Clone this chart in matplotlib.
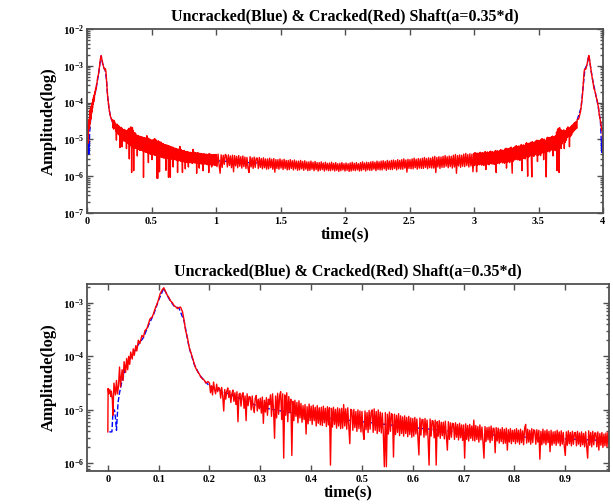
import numpy as np
import matplotlib
matplotlib.use("Agg")
from matplotlib import pyplot as plt
from matplotlib.ticker import FormatStrFormatter, LogLocator

plt.rcParams['font.family'] = 'Liberation Serif'
plt.rcParams['font.weight'] = 'bold'
plt.rcParams['mathtext.fontset'] = 'custom'
plt.rcParams['mathtext.rm'] = 'Liberation Serif:bold'

TITLE = "Uncracked(Blue) & Cracked(Red) Shaft(a=0.35*d)"

# cracked shaft spectrum, log10(amplitude)
# rise + main peak, 0 .. 0.2 s
peak_t = [0, 0.0005, 0.002, 0.004, 0.006, 0.007, 0.009, 0.010, 0.012, 0.015,
          0.017, 0.019, 0.021, 0.023, 0.025, 0.028, 0.030, 0.032, 0.035, 0.037,
          0.039, 0.041, 0.043, 0.045, 0.048, 0.050, 0.052, 0.055, 0.057, 0.060,
          0.063, 0.067, 0.070, 0.073, 0.077, 0.080, 0.083, 0.087, 0.090, 0.093,
          0.097, 0.100, 0.103, 0.107, 0.110, 0.113, 0.117, 0.120, 0.123, 0.127,
          0.130, 0.133, 0.137, 0.140, 0.143, 0.147, 0.150, 0.153, 0.157, 0.160,
          0.163, 0.167, 0.170, 0.173, 0.177, 0.180, 0.183, 0.187, 0.190, 0.193,
          0.197]
peak_v = [-5.41, -4.60, -4.70, -4.62, -4.75, -4.65, -4.82, -5.10, -4.50, -4.72,
          -4.45, -4.70, -4.55, -4.20, -4.57, -4.25, -4.45, -4.10, -4.30, -4.04,
          -4.25, -4.00, -4.15, -3.92, -4.05, -3.86, -3.98, -3.80, -3.90, -3.70,
          -3.76, -3.61, -3.64, -3.52, -3.48, -3.39, -3.30, -3.27, -3.20, -3.11,
          -3.02, -2.93, -2.83, -2.76, -2.72, -2.78, -2.86, -2.90, -2.96, -3.00,
          -3.05, -3.07, -3.11, -3.09, -3.08, -3.17, -3.33, -3.52, -3.67, -3.83,
          -3.92, -4.04, -4.14, -4.22, -4.29, -4.33, -4.39, -4.42, -4.45, -4.50,
          -4.47]

# noisy tail, one sample every 2 ms from 0.2 s
tail_v = [
    -4.50, -4.68, -4.55, -4.72, -4.48, -4.62, -4.70, -4.52, -4.66, -4.58,
    -4.60, -4.78, -4.58, -4.74, -5.02, -4.62, -4.80, -4.65, -4.59, -4.77,
    -4.64, -4.86, -4.70, -4.63, -4.84, -4.68, -4.90, -4.66, -5.22, -4.71,
    -4.69, -4.93, -4.72, -4.68, -4.97, -4.74, -5.20, -4.70, -4.92, -4.75,
    -4.76, -5.00, -4.74, -4.95, -5.05, -4.78, -4.73, -5.02, -4.80, -4.98,
    -4.78, -5.06, -4.76, -5.25, -4.82, -5.04, -4.77, -5.10, -4.80, -4.90,
    -4.72, -5.12, -4.70, -5.00, -5.53, -4.74, -5.15, -4.69, -5.08, -4.73,
    -4.66, -5.18, -4.70, -5.90, -4.72, -5.10, -4.68, -5.22, -4.75, -5.05,
    -4.80, -5.85, -4.84, -5.20, -4.82, -5.12, -4.86, -5.24, -4.83, -5.15,
    -4.88, -5.23, -4.92, -5.18, -4.90, -5.45, -4.94, -5.26, -4.89, -5.20,
    -4.93, -5.27, -4.91, -5.20, -4.95, -5.30, -4.92, -5.25, -4.96, -5.28,
    -4.95, -5.29, -4.93, -5.24, -4.97, -5.31, -4.94, -5.28, -4.96, -6.03,
    -4.97, -5.32, -4.95, -5.27, -4.99, -5.34, -4.96, -5.30, -4.98, -5.35,
    -4.97, -5.34, -4.90, -5.30, -4.98, -5.36, -4.96, -5.28, -5.63, -4.99,
    -5.01, -5.38, -4.99, -5.33, -5.03, -5.40, -5.00, -5.35, -5.02, -5.41,
    -5.03, -5.40, -5.55, -5.02, -5.37, -5.05, -5.42, -5.01, -5.36, -5.04,
    -5.00, -5.42, -4.98, -5.38, -5.03, -5.44, -5.00, -5.40, -5.04, -5.43,
    -5.06, -5.44, -6.06, -5.05, -6.06, -5.08, -5.45, -5.04, -5.40, -5.07,
    -5.09, -5.88, -5.08, -5.46, -5.10, -5.42, -5.07, -5.48, -5.11, -5.44,
    -5.13, -5.49, -5.11, -5.44, -5.14, -5.50, -5.12, -5.46, -5.15, -5.51,
    -5.16, -5.49, -5.14, -5.45, -5.17, -5.50, -5.84, -5.15, -5.47, -5.18,
    -5.18, -5.51, -5.16, -5.47, -5.19, -5.52, -6.03, -5.17, -5.49, -5.20,
    -5.21, -5.52, -5.19, -6.03, -5.22, -5.49, -5.20, -5.53, -5.23, -5.48,
    -5.23, -5.54, -5.21, -5.50, -5.75, -5.22, -5.55, -5.24, -5.51, -5.25,
    -5.26, -5.55, -5.24, -5.51, -5.27, -5.56, -5.25, -5.52, -5.28, -5.57,
    -5.28, -5.90, -5.26, -5.55, -5.29, -5.58, -5.27, -5.53, -5.30, -5.57,
    -5.19, -5.58, -5.29, -5.55, -5.31, -5.60, -5.28, -5.56, -5.32, -5.59,
    -5.90, -5.31, -5.59, -5.33, -5.56, -5.32, -5.61, -5.30, -5.57, -5.34,
    -5.35, -5.80, -5.33, -5.58, -5.34, -5.62, -5.36, -5.59, -5.33, -5.63,
    -5.36, -5.62, -5.34, -5.75, -5.37, -5.60, -5.35, -5.63, -5.38, -5.59,
    -5.37, -5.63, -5.35, -5.60, -5.38, -5.64, -5.36, -5.61, -5.39, -5.65,
    -5.34, -5.27, -5.62, -5.36, -5.60, -5.38, -5.64, -5.35, -5.61, -5.37,
    -5.39, -5.64, -5.37, -5.60, -5.38, -5.92, -5.40, -5.65, -5.36, -5.62,
    -5.39, -5.65, -5.37, -5.61, -5.40, -5.78, -5.38, -5.66, -5.41, -5.63,
    -5.40, -5.66, -5.38, -5.62, -5.41, -5.67, -5.39, -5.64, -5.42, -5.68,
    -5.85, -5.41, -5.66, -5.39, -5.63, -5.42, -5.67, -5.40, -5.64, -5.43,
    -5.42, -5.67, -5.40, -5.64, -5.43, -5.68, -5.41, -5.65, -5.44, -5.69,
    -5.41, -5.68, -5.90, -5.39, -5.66, -5.42, -5.69, -5.40, -5.65, -5.43,
    -5.43, -5.69, -5.41, -5.75, -5.44, -5.66, -5.42, -5.70, -5.45, -5.67,
    -5.43, -5.69, -5.41, -5.66, -5.44, -5.70, -5.42, -5.67, -5.45, -5.71]

# floor between the peaks, one sample every 8 ms from 1.0 s
mid_v = [
    -5.41, -5.74, -5.40, -5.70, -5.92, -5.42, -5.76, -5.43, -5.68, -5.41,
    -5.44, -5.75, -5.42, -5.71, -5.45, -5.77, -5.43, -5.88, -5.44, -5.72,
    -5.46, -5.77, -5.44, -5.73, -5.47, -5.78, -5.45, -5.74, -5.48, -5.79,
    -5.49, -5.78, -5.90, -5.47, -5.75, -5.50, -5.79, -5.48, -5.76, -5.51,
    -5.51, -5.79, -5.49, -5.76, -5.52, -5.80, -5.50, -5.77, -5.53, -5.81,
    -5.53, -5.80, -5.51, -5.77, -5.54, -5.81, -5.52, -5.89, -5.55, -5.79,
    -5.55, -5.81, -5.53, -5.78, -5.56, -5.82, -5.54, -5.79, -5.57, -5.83,
    -5.57, -5.82, -5.55, -5.79, -5.58, -5.83, -5.56, -5.80, -5.59, -5.84,
    -5.59, -5.83, -5.57, -5.80, -5.60, -5.84, -5.58, -5.81, -5.61, -5.85,
    -5.61, -5.84, -5.59, -5.81, -5.62, -5.85, -5.60, -5.82, -5.63, -5.86,
    -5.63, -5.84, -5.61, -5.82, -5.64, -5.86, -5.62, -5.83, -5.65, -5.85,
    -5.64, -5.85, -5.62, -5.83, -5.65, -5.86, -5.63, -5.84, -5.66, -5.87,
    -5.65, -5.85, -5.63, -5.83, -5.66, -5.86, -5.64, -5.84, -5.66, -5.87,
    -5.64, -5.86, -5.62, -5.84, -5.65, -5.85, -5.63, -5.83, -5.66, -5.86,
    -5.63, -5.85, -5.61, -5.82, -5.64, -5.86, -5.62, -5.83, -5.63, -5.84,
    -5.61, -5.84, -5.60, -5.81, -5.62, -5.85, -5.59, -5.82, -5.61, -5.83,
    -5.59, -5.83, -5.58, -5.80, -5.60, -5.84, -5.57, -5.81, -5.59, -5.82,
    -5.57, -5.82, -5.56, -5.79, -5.58, -5.83, -5.55, -5.80, -5.57, -5.81,
    -5.55, -5.81, -5.53, -5.78, -5.56, -5.89, -5.54, -5.79, -5.55, -5.80,
    -5.53, -5.80, -5.51, -5.77, -5.54, -5.81, -5.52, -5.78, -5.53, -5.79,
    -5.51, -5.79, -5.49, -5.76, -5.52, -5.80, -5.50, -5.77, -5.51, -5.78,
    -5.48, -5.78, -5.46, -5.90, -5.49, -5.75, -5.47, -5.79, -5.48, -5.76,
    -5.46, -5.76, -5.44, -5.73, -5.47, -5.77, -5.45, -5.74, -5.46, -5.78,
    -5.43, -5.75, -5.41, -5.92, -5.44, -5.72, -5.42, -5.76, -5.43, -5.73,
    -5.40, -5.74, -5.38, -5.71, -5.41, -5.75, -5.39, -5.72, -5.40, -5.88]

# rising noise towards the mirror peak, one sample every 4 ms from 3.0 s
rtail_v = [
    -5.38, -5.71, -5.36, -5.68, -5.39, -5.88, -5.37, -5.70, -5.40, -5.67,
    -5.37, -5.69, -5.35, -5.66, -5.38, -5.70, -5.36, -5.67, -5.39, -5.71,
    -5.35, -5.67, -5.33, -5.82, -5.36, -5.68, -5.34, -5.65, -5.37, -5.69,
    -5.34, -5.66, -5.32, -5.63, -5.35, -5.67, -5.33, -5.64, -5.36, -5.68,
    -5.32, -5.64, -5.30, -5.90, -5.33, -5.65, -5.31, -5.62, -5.34, -5.66,
    -5.30, -5.63, -5.28, -5.60, -5.31, -5.64, -5.29, -5.61, -5.32, -5.65,
    -5.26, -5.61, -5.24, -5.78, -5.27, -5.62, -5.25, -5.59, -5.28, -5.63,
    -5.23, -5.58, -5.21, -5.55, -5.92, -5.24, -5.59, -5.22, -5.56, -5.25,
    -5.19, -5.55, -5.17, -5.52, -5.20, -5.56, -5.18, -5.53, -5.21, -5.57,
    -5.16, -5.51, -5.14, -5.85, -5.17, -5.52, -5.15, -5.49, -5.18, -5.53,
    -5.11, -5.47, -5.09, -5.44, -6.00, -5.12, -5.48, -5.10, -5.45, -5.13,
    -5.08, -5.45, -6.02, -5.06, -5.43, -5.09, -5.46, -5.07, -5.42, -5.10,
    -5.04, -5.42, -5.02, -5.60, -5.05, -5.43, -5.03, -5.39, -5.06, -5.44,
    -5.00, -5.38, -4.98, -5.35, -5.01, -5.55, -4.99, -5.36, -5.02, -5.40,
    -6.02, -4.96, -5.33, -4.94, -5.30, -4.97, -5.34, -4.95, -5.31, -4.98,
    -4.93, -5.29, -4.91, -5.45, -4.94, -5.30, -4.92, -5.26, -4.90, -5.31,
    -4.80, -5.85, -4.72, -5.22, -4.70, -5.90, -4.68, -5.20, -4.74, -5.25,
    -4.75, -5.12, -4.78, -5.05, -4.74, -5.25, -4.79, -5.08, -4.76, -5.02,
    -4.70, -4.95, -4.66, -4.90, -4.72, -5.20, -4.68, -4.92, -4.65, -4.88,
    -4.62, -4.82, -4.60, -4.78, -4.56, -4.75, -4.54, -4.72, -4.52, -4.70]

# mirror peak, 3.8 .. 4.0 s
rpeak_t = [3.800, 3.805, 3.810, 3.815, 3.820, 3.825, 3.830, 3.835, 3.840, 3.845,
           3.850, 3.855, 3.860, 3.865, 3.870, 3.875, 3.880, 3.885, 3.890, 3.895,
           3.900, 3.905, 3.910, 3.915, 3.920, 3.925, 3.930, 3.935, 3.940, 3.945,
           3.950, 3.955, 3.960, 3.965, 3.970, 3.975, 3.980, 3.985, 3.990, 3.995,
           3.999]
rpeak_v = [-4.47, -4.45, -4.45, -4.40, -4.33, -4.25, -4.14, -3.98, -3.83, -3.60,
           -3.33, -3.12, -3.09, -3.10, -3.05, -2.98, -2.90, -2.80, -2.72, -2.80,
           -2.93, -3.06, -3.20, -3.29, -3.39, -3.50, -3.62, -3.66, -3.72, -3.82,
           -3.88, -3.94, -4.05, -4.12, -4.30, -4.40, -4.50, -4.60, -4.75, -4.72,
           -5.35]

# uncracked shaft (mostly hidden under the red trace)
blue_t = [0.003, 0.008, 0.010, 0.013, 0.015, 0.017, 0.020, 0.023, 0.027, 0.030,
          0.035, 0.04, 0.05, 0.06, 0.07, 0.08, 0.09, 0.10, 0.11, 0.12,
          0.13, 0.14, 0.15, 0.16, 0.17, 0.18, 0.19, 0.2, 0.3, 0.4,
          0.5, 0.6, 0.7, 0.8, 0.9, 1.0, 1.5, 2.0, 2.5, 3.0,
          3.5, 3.7, 3.8, 3.83, 3.845, 3.86, 3.875, 3.89, 3.905, 3.92,
          3.94, 3.96, 3.975, 3.98, 3.985, 3.99, 3.993, 3.997]
blue_v = [-5.41, -5.41, -5.05, -5.00, -5.15, -5.38, -4.87, -4.68, -4.50, -4.40,
          -4.20, -4.10, -3.95, -3.78, -3.65, -3.42, -3.22, -2.95, -2.73, -2.92,
          -3.06, -3.10, -3.34, -3.84, -4.15, -4.34, -4.46, -4.55, -4.95, -5.12,
          -5.22, -5.33, -5.42, -5.50, -5.54, -5.58, -5.68, -5.75, -5.68, -5.56,
          -5.22, -5.00, -4.47, -4.14, -3.60, -3.09, -2.98, -2.72, -3.06, -3.39,
          -3.72, -4.05, -4.40, -4.50, -4.90, -5.35, -5.00, -5.40]

tail_t = 0.2 + 0.002 * np.arange(len(tail_v))
mid_t = 1.0 + 0.008 * np.arange(len(mid_v))
rtail_t = 3.0 + 0.004 * np.arange(len(rtail_v))

red_t = np.concatenate([peak_t, tail_t, mid_t, rtail_t, rpeak_t])
red_a = 10.0 ** np.concatenate([peak_v, tail_v, mid_v, rtail_v, rpeak_v])
blue_a = 10.0 ** np.array(blue_v)

W, H = 613, 504
fig = plt.figure(figsize=(W / 100, H / 100), dpi=100)
ax1 = fig.add_axes([87 / W, (H - 213) / H, 516 / W, 184 / H])
ax2 = fig.add_axes([87 / W, (H - 471) / H, 522 / W, 187 / H])

spine_c = '#505050'
for ax in (ax1, ax2):
    ax.plot(blue_t, blue_a, color='#0000ff', lw=1.0, ls='--')
    ax.plot(red_t, red_a, color='#ff0000', lw=1.0)
    ax.set_yscale('log')
    ax.yaxis.set_major_locator(LogLocator(base=10, numticks=20))
    ax.yaxis.set_minor_locator(LogLocator(base=10, subs=np.arange(2, 10), numticks=20))
    ax.xaxis.set_major_formatter(FormatStrFormatter('%g'))
    ax.tick_params(which='both', direction='in', top=True, right=True,
                   color=spine_c, width=1.0)
    ax.tick_params(which='major', length=4.5, pad=3)
    ax.tick_params(which='minor', length=2.2)
    ax.tick_params(axis='x', labelsize=7.5)
    ax.tick_params(axis='y', labelsize=8, pad=2)
    for s in ax.spines.values():
        s.set_color(spine_c)
        s.set_linewidth(1.3)
    ax.set_title(TITLE, fontsize=11.5, fontweight='bold', pad=6)
    ax.set_xlabel('time(s)', fontsize=12, fontweight='bold', labelpad=0)
    ax.set_ylabel('Amplitude(log)', fontsize=12, fontweight='bold', labelpad=4)

ax1.set_xlim(0, 4)
ax1.set_xticks(np.arange(0, 4.01, 0.5))
ax1.set_ylim(1e-7, 1e-2)

ax2.set_xlim(-0.041, 0.986)
ax2.set_xticks(np.arange(0, 0.95, 0.1))
ax2.set_ylim(10 ** -6.14, 10 ** -2.65)

fig.savefig('out.png', dpi=100)
